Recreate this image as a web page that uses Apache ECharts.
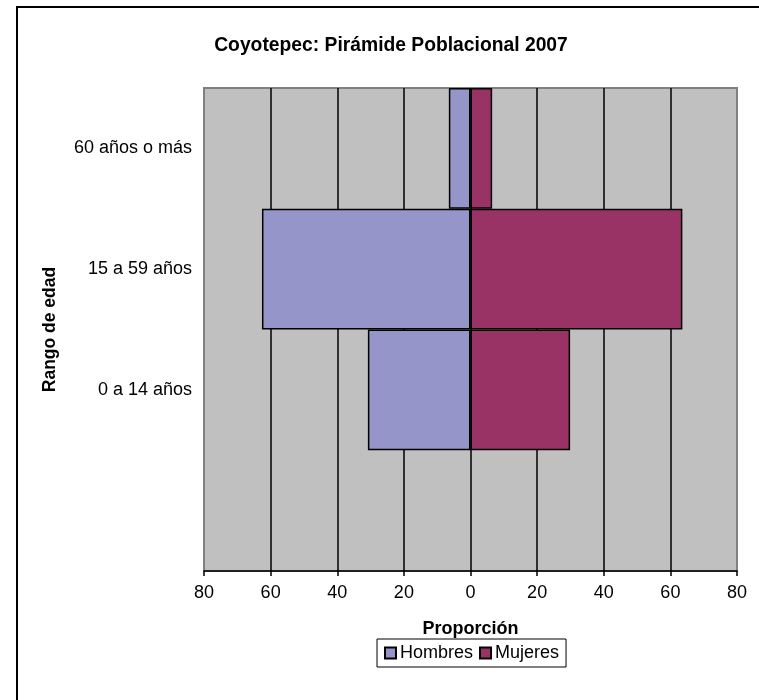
<!DOCTYPE html>
<html>
<head>
<meta charset="utf-8">
<script src="https://cdn.jsdelivr.net/npm/echarts@6/dist/echarts.min.js"></script>
<style>
  html, body { margin: 0; padding: 0; background: #ffffff; }
  #chart { width: 759px; height: 700px; }
</style>
</head>
<body>
<div id="chart"></div>
<script>
// Age groups, bottom to top (the first slot is left empty below the youngest group)
const ageGroups = ['', '0 a 14 años', '15 a 59 años', '60 años o más'];
// Share of each sex by age group (%)
const hombres = [null, 30.8, 62.6, 6.5];
const mujeres = [null, 29.9, 63.6, 6.5];
const xTicks = [-80, -60, -40, -20, 0, 20, 40, 60, 80];

const FONT = '"Liberation Sans", Arial, sans-serif';

const chart = echarts.init(document.getElementById('chart'), null, { renderer: 'canvas' });

chart.setOption({
  backgroundColor: '#ffffff',
  animation: false,
  title: {
    text: 'Coyotepec: Pirámide Poblacional 2007',
    left: 386,
    top: 31,
    textAlign: 'center',
    textStyle: { fontFamily: FONT, fontSize: 19.3, fontWeight: 'bold', color: '#000' }
  },
  legend: {
    data: ['Hombres', 'Mujeres'],
    left: 377,
    top: 639,
    orient: 'horizontal',
    itemWidth: 11,
    itemHeight: 11,
    itemGap: 6,
    padding: [5, 7, 5, 7],
    borderColor: '#000',
    borderWidth: 1,
    backgroundColor: '#fff',
    icon: 'rect',
    textStyle: { fontFamily: FONT, fontSize: 18, color: '#000', padding: [0, 0, 0, -1] }
  },
  grid: {
    left: 204,
    right: 22,
    top: 88,
    bottom: 129,
    show: true,
    backgroundColor: '#C0C0C0',
    borderColor: '#808080',
    borderWidth: 2,
    containLabel: false
  },
  xAxis: {
    type: 'value',
    min: xTicks[0],
    max: xTicks[xTicks.length - 1],
    interval: 20,
    name: 'Proporción',
    nameLocation: 'middle',
    nameGap: 49,
    nameTextStyle: { fontFamily: FONT, fontSize: 18, fontWeight: 'bold', color: '#000' },
    axisLine: { show: true, lineStyle: { color: '#000', width: 1.5 } },
    axisTick: { show: true, length: 5, lineStyle: { color: '#000', width: 1.5 } },
    axisLabel: {
      fontFamily: FONT, fontSize: 18, color: '#000', margin: 13,
      formatter: v => String(Math.abs(v))
    },
    splitLine: {
      show: true,
      showMinLine: false,
      showMaxLine: false,
      lineStyle: { color: '#000', width: 1.5 }
    }
  },
  yAxis: {
    type: 'category',
    data: ageGroups,
    name: 'Rango de edad',
    nameLocation: 'middle',
    nameGap: 145,
    nameRotate: 90,
    nameTextStyle: { fontFamily: FONT, fontSize: 17.5, fontWeight: 'bold', color: '#000' },
    axisLine: { show: false },
    axisTick: { show: false },
    axisLabel: { fontFamily: FONT, fontSize: 18, color: '#000', margin: 12 },
    splitLine: { show: false }
  },
  series: [
    {
      name: 'Hombres',
      type: 'bar',
      data: hombres.map(v => (v == null ? null : -v)),
      barWidth: '100%',
      barGap: '-100%',
      itemStyle: { color: '#9595C9', borderColor: '#000', borderWidth: 1.5 }
    },
    {
      name: 'Mujeres',
      type: 'bar',
      data: mujeres,
      barWidth: '100%',
      barGap: '-100%',
      itemStyle: { color: '#993366', borderColor: '#000', borderWidth: 1.5 }
    }
  ],
  graphic: [
    {
      type: 'rect',
      silent: true,
      z: 100,
      shape: { x: 17, y: 7, width: 800, height: 800 },
      style: { fill: null, stroke: '#000', lineWidth: 2 }
    }
  ]
});
</script>
</body>
</html>
